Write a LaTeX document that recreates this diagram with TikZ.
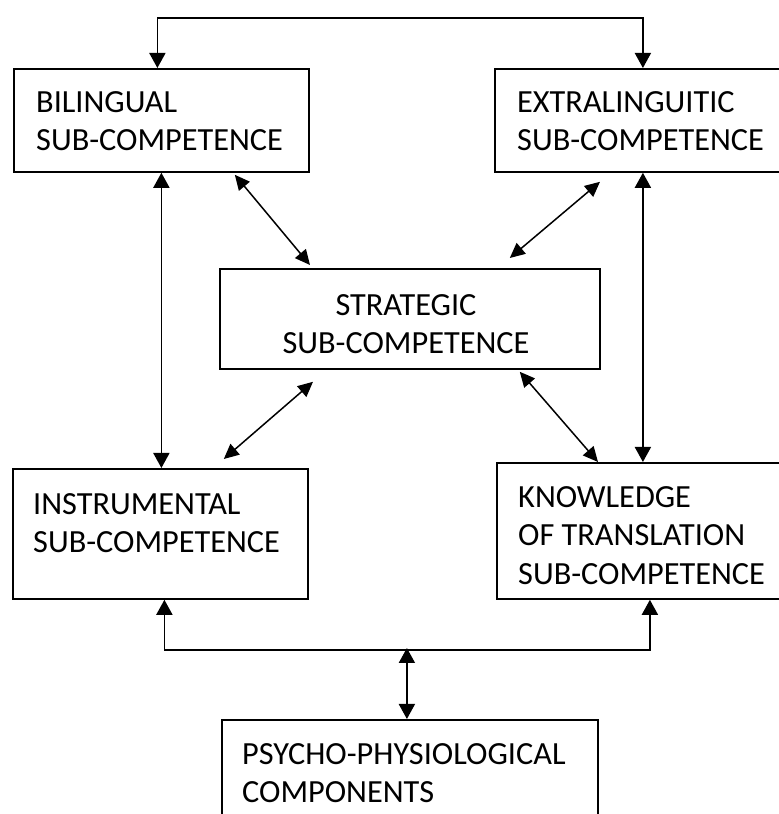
\documentclass[tikz,border=0pt]{standalone}
\usepackage{fontspec}
\setmainfont{Carlito}
\usetikzlibrary{arrows.meta}

\begin{document}
\begin{tikzpicture}[x=1pt,y=1pt,
    box/.style={draw, line width=1.8pt, inner sep=0pt},
    lbl/.style={inner sep=0pt, anchor=north west, align=left,
      font=\fontsize{32.3}{38.5}\selectfont},
    link/.style={line width=1.8pt, {Triangle[length=15pt,width=16pt]}-{Triangle[length=15pt,width=16pt]}},
    thin link/.style={line width=1.5pt, {Triangle[length=15pt,width=14pt]}-{Triangle[length=15pt,width=14pt]}}]
  \useasboundingbox (0,0) rectangle (779,814);
  \clip (0,0) rectangle (779,814);

  \node[box, minimum width=295, minimum height=103, anchor=north west] (bil) at (13,746) {};
  \node[box, minimum width=296, minimum height=103, anchor=north west] (ext) at (494,746) {};
  \node[box, minimum width=380, minimum height=100, anchor=north west] (str) at (219,546) {};
  \node[box, minimum width=295, minimum height=130, anchor=north west] (ins) at (12,346) {};
  \node[box, minimum width=294, minimum height=136, anchor=north west] (kno) at (496,352) {};
  \node[box, minimum width=376, minimum height=141, anchor=north west] (psy) at (221,95) {};

  \node[lbl] (bil text) at (36,723) {BILINGUAL\\SUB-COMPETENCE};
  \node[lbl] (ext text) at (517,723) {EXTRALINGUITIC\\SUB-COMPETENCE};
  \node[lbl, anchor=north, align=center] (str text) at (406,520) {STRATEGIC\\SUB-COMPETENCE};
  \node[lbl] (ins text) at (33,321) {INSTRUMENTAL\\SUB-COMPETENCE};
  \node[lbl] (kno text) at (518,328) {KNOWLEDGE\\OF TRANSLATION\\SUB-COMPETENCE};
  \node[lbl] (psy text) at (242,71) {PSYCHO-PHYSIOLOGICAL\\COMPONENTS};

  % frame connectors
  \draw[link] ([xshift=-4]bil.north) -- ++(0,50) -| (ext.north);
  \draw[link] (bil.south) -- (bil.south |- ins.north);
  \draw[link] (ext.south) -- (ext.south |- kno.north);
  \draw[link] ([xshift=4]ins.south) -- ++(0,-50) -| ([xshift=6]kno.south);
  \coordinate (hub) at ([xshift=-3]psy.north |- 0,166);
  \draw[link] (hub) -- ([xshift=-3]psy.north);

  % links to the strategic box
  \draw[thin link] ([shift={(-75,-2)}]bil.south east) -- ([shift={(91,3)}]str.north west);
  \draw[thin link] ([shift={(106,-9)}]ext.south west) -- ([shift={(-91,10)}]str.north east);
  \draw[thin link] ([shift={(94,-12)}]str.south west) -- ([shift={(-85,9)}]ins.north east);
  \draw[thin link] ([shift={(-81,-2)}]str.south east) -- ([shift={(102,0)}]kno.north west);
\end{tikzpicture}
\end{document}
